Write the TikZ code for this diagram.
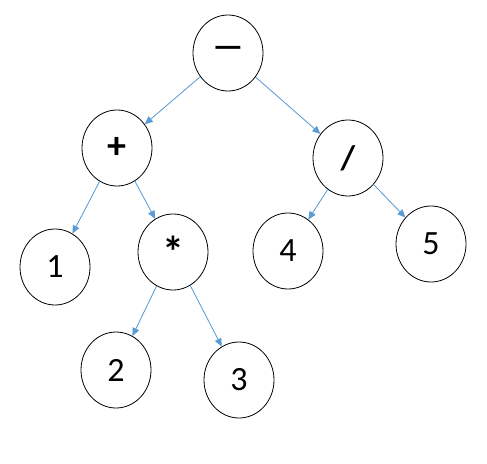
\documentclass[tikz,border=0pt]{standalone}
\usepackage{fontspec}
\setmainfont{Carlito}
\usepackage{xcolor}
\usetikzlibrary{arrows.meta,shapes.geometric}
\definecolor{edgeblue}{RGB}{91,155,213}

\begin{document}
\begin{tikzpicture}[x=1pt,y=1pt,>={Triangle[length=8pt,width=7pt]},
  opnode/.style={draw,ellipse,line width=0.8pt,minimum width=70pt,minimum height=76pt,inner sep=0pt,font=\fontsize{34}{36}\selectfont},
  edge/.style={->,draw=edgeblue,fill=edgeblue,line width=0.8pt}]
\useasboundingbox (0,0) rectangle (487,-463);
\node[opnode] (minus) at (228,-53) {\bfseries\raisebox{0.15ex}{—}};
\node[opnode] (plus) at (117,-148) {\fontsize{38}{40}\selectfont\bfseries +};
\node[opnode] (div) at (348,-158) {\bfseries /};
\node[opnode] (one) at (55,-267) {1};
\node[opnode] (star) at (173,-252) {\fontsize{44}{46}\selectfont\bfseries\raisebox{-0.5ex}{*}};
\node[opnode] (four) at (288,-251) {4};
\node[opnode] (five) at (431,-244) {5};
\node[opnode] (two) at (116,-370) {2};
\node[opnode] (three) at (239,-380) {3};
\foreach \a/\b in {minus/plus,minus/div,plus/one,plus/star,div/four,div/five,star/two,star/three}{\draw[edge] (\a)--(\b);}
\end{tikzpicture}
\end{document}
